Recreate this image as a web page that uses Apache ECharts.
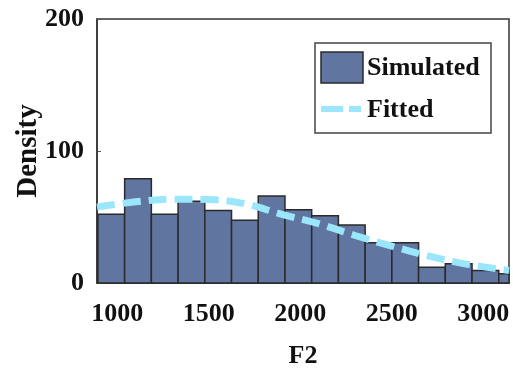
<!DOCTYPE html>
<html>
<head>
<meta charset="utf-8">
<script src="https://cdn.jsdelivr.net/npm/echarts@6/dist/echarts.min.js"></script>
<style>
  html, body { margin: 0; padding: 0; background: #fff; }
  #chart { width: 513px; height: 375px; }
</style>
</head>
<body>
<div id="chart"></div>
<script>
// Histogram of simulated F2 values with a fitted density curve
const binStart = 895;
const binWidth = 146;
const simulated = [52, 79, 52, 62, 55, 47.5, 66, 55.5, 51, 44, 30.5, 30.5, 12, 14.5, 9.5, 7];

const fittedX = [890, 1100, 1300, 1500, 1700, 1900, 2100, 2300, 2500, 2700, 2900, 3141];
const fittedY = [57.5, 61.5, 63.5, 63.3, 60, 52, 45, 36, 28, 20.5, 14.5, 9.5];

const xTicks = [1000, 1500, 2000, 2500, 3000];
const yTicks = [0, 100, 200];

const FONT = "'Liberation Serif', 'Times New Roman', serif";
const BAR_COLOR = '#60759f';
const FIT_COLOR = '#9be6fb';

const binData = simulated.map((v, i) => [binStart + i * binWidth, binStart + (i + 1) * binWidth, v]);
const fitData = fittedX.map((x, i) => [x, fittedY[i]]);

const chart = echarts.init(document.getElementById('chart'), null, { renderer: 'canvas' });

chart.setOption({
  backgroundColor: '#ffffff',
  animation: false,
  grid: {
    left: 97, top: 19, width: 412, height: 264,
    outerBoundsMode: 'none',
    containLabel: false,
    show: true, borderColor: '#333', borderWidth: 1.5, backgroundColor: 'transparent'
  },
  xAxis: {
    type: 'value',
    min: 890, max: 3141,
    name: 'F2',
    nameLocation: 'middle',
    nameGap: 60,
    nameMoveOverlap: false,
    nameTextStyle: { fontFamily: FONT, fontWeight: 'bold', fontSize: 26, color: '#111' },
    axisLine: { show: true, lineStyle: { color: '#333', width: 1.5 } },
    axisTick: { show: true, inside: true, length: 4, customValues: xTicks, lineStyle: { color: '#333' } },
    axisLabel: {
      customValues: xTicks,
      formatter: v => String(v),
      margin: 18,
      fontFamily: FONT, fontWeight: 'bold', fontSize: 26, color: '#111'
    },
    splitLine: { show: false }
  },
  yAxis: {
    type: 'value',
    min: 0, max: 200, interval: 100,
    name: 'Density',
    nameLocation: 'middle',
    nameRotate: 90,
    nameGap: 54,
    nameMoveOverlap: false,
    nameTextStyle: { fontFamily: FONT, fontWeight: 'bold', fontSize: 29, color: '#111' },
    axisLine: { show: true, lineStyle: { color: '#333', width: 1.5 } },
    axisTick: { show: true, inside: true, length: 4, lineStyle: { color: '#555' } },
    axisLabel: {
      customValues: yTicks,
      formatter: v => String(v),
      margin: 13,
      fontFamily: FONT, fontWeight: 'bold', fontSize: 26, color: '#111'
    },
    splitLine: { show: false }
  },
  series: [
    {
      name: 'Simulated',
      type: 'custom',
      data: binData,
      encode: { x: [0, 1], y: 2 },
      renderItem: function (params, api) {
        const p0 = api.coord([api.value(0), api.value(2)]);
        const p1 = api.coord([api.value(1), 0]);
        const cs = params.coordSys;
        const shape = echarts.graphic.clipRectByRect(
          { x: p0[0], y: p0[1], width: p1[0] - p0[0], height: p1[1] - p0[1] },
          { x: cs.x, y: cs.y, width: cs.width, height: cs.height }
        );
        if (!shape) return null;
        return {
          type: 'rect',
          shape: shape,
          style: { fill: BAR_COLOR, stroke: '#2a2a2a', lineWidth: 1.5 }
        };
      },
      z: 2
    },
    {
      name: 'Fitted',
      type: 'line',
      data: fitData,
      smooth: 0.35,
      showSymbol: false,
      lineStyle: { color: FIT_COLOR, width: 7, type: [18, 8] },
      z: 3
    }
  ],
  graphic: [
    {
      type: 'group',
      z: 10,
      children: [
        { type: 'rect', shape: { x: 315, y: 43, width: 176, height: 90 },
          style: { fill: '#fff', stroke: '#444', lineWidth: 1.5 } },
        { type: 'rect', shape: { x: 321, y: 52, width: 42, height: 31 },
          style: { fill: BAR_COLOR, stroke: '#2a2a2a', lineWidth: 1.5 } },
        { type: 'text', x: 367, y: 68,
          style: { text: 'Simulated', font: 'bold 26px ' + FONT, fill: '#111', verticalAlign: 'middle' } },
        { type: 'line', shape: { x1: 321, y1: 109, x2: 361, y2: 109 },
          style: { stroke: FIT_COLOR, lineWidth: 6, lineDash: [22, 6] } },
        { type: 'text', x: 367, y: 110,
          style: { text: 'Fitted', font: 'bold 26px ' + FONT, fill: '#111', verticalAlign: 'middle' } }
      ]
    }
  ]
});
</script>
</body>
</html>
